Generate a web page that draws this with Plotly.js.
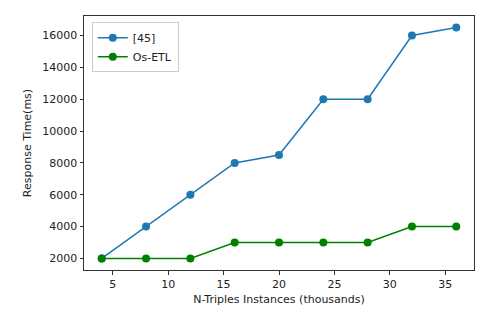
<!DOCTYPE html>
<html><head><meta charset="utf-8">
<script src="https://cdn.plot.ly/plotly-3.0.1.min.js"></script>
<style>html,body{margin:0;padding:0;background:#fff}#chart{width:480px;height:313px}</style>
</head><body><div id="chart"></div>
<script>
const instances = [4, 8, 12, 16, 20, 24, 28, 32, 36];
const ref45 = [2000, 4000, 6000, 8000, 8500, 12000, 12000, 16000, 16500];
const osEtl = [2000, 2000, 2000, 3000, 3000, 3000, 3000, 4000, 4000];
const xTicks = [5, 10, 15, 20, 25, 30, 35];
const yTicks = [2000, 4000, 6000, 8000, 10000, 12000, 14000, 16000];

const ff = 'DejaVu Sans, sans-serif';
const traces = [
  {x: instances, y: ref45, name: '[45]', mode: 'lines+markers', line: {color: '#1f77b4', width: 1.5}, marker: {color: '#1f77b4', size: 8}},
  {x: instances, y: osEtl, name: 'Os-ETL', mode: 'lines+markers', line: {color: '#008000', width: 1.5}, marker: {color: '#008000', size: 8}}
];
const layout = {
  width: 480, height: 313,
  margin: {l: 84, r: 6, t: 16, b: 43},
  paper_bgcolor: '#fff', plot_bgcolor: '#fff',
  font: {family: ff, size: 11, color: '#222'},
  showlegend: true,
  legend: {x: 0.02, y: 0.975, xanchor: 'left', yanchor: 'top', bgcolor: 'rgba(255,255,255,0.8)', bordercolor: '#ccc', borderwidth: 1, font: {family: ff, size: 11, color: '#222'}, tracegroupgap: 0},
  xaxis: {range: [2.4, 37.6], tickvals: xTicks, tickformat: 'd', ticks: 'outside', ticklen: 3.5, tickcolor: '#333', showgrid: false, zeroline: false, showline: true, linecolor: '#333', linewidth: 1, mirror: true,
    title: {text: 'N-Triples Instances (thousands)', font: {family: ff, size: 11, color: '#222'}, standoff: 5}},
  yaxis: {range: [1275, 17225], tickvals: yTicks, tickformat: 'd', ticks: 'outside', ticklen: 3.5, tickcolor: '#333', showgrid: false, zeroline: false, showline: true, linecolor: '#333', linewidth: 1, mirror: true,
    title: {text: 'Response Time(ms)', font: {family: ff, size: 11, color: '#222'}, standoff: 8}}
};
Plotly.newPlot('chart', traces, layout, {displayModeBar: false, staticPlot: true});
</script></body></html>
